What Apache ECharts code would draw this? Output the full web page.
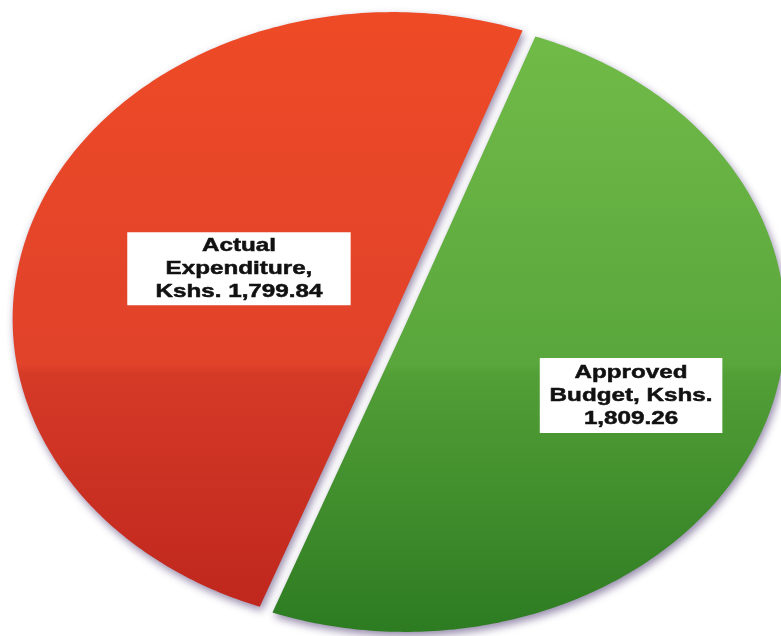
<!DOCTYPE html>
<html>
<head>
<meta charset="utf-8">
<script src="https://cdn.jsdelivr.net/npm/echarts@6/dist/echarts.min.js"></script>
<style>
  html, body { margin: 0; padding: 0; background: #ffffff; }
  #chart { width: 781px; height: 636px; }
</style>
</head>
<body>
<div id="chart"></div>
<script>
// Budget vs. expenditure, Kshs. (millions)
const categories = ['Approved Budget', 'Actual Expenditure'];
const values = [1809.26, 1799.84];
const valuePrefix = 'Kshs. ';

// Vertical colour ramps for each slice (top -> bottom)
const sliceColors = [
  [[0, '#72BC48'], [0.57, '#59A63C'], [0.585, '#529F37'], [1, '#2E7C22']],
  [[0, '#EE4A26'], [0.57, '#E0422A'], [0.585, '#D53A27'], [1, '#BE251C']]
];

// Oval pie geometry (pixels) and label placement
const layout = { cx: 399, cy: 322, rx: 380, ry: 307, startAngle: 70, explode: 7 };
const labelLayout = [
  { r: 0.633, dy: 3.5, padding: [3, 7.5] },
  { r: 0.431, dy: -4.5, padding: [2, 21.5] }
];
const labelFontSize = 18.5;
const labelFont = 'bold ' + labelFontSize + 'px "Liberation Sans", Arial, sans-serif';
const labelWrapWidth = 132;
const labelStretch = 1.31;

function formatValue(v) {
  return valuePrefix + v.toLocaleString('en-US', { minimumFractionDigits: 2, maximumFractionDigits: 2 });
}

// word-wrap a label to a maximum line width
const measureCtx = document.createElement('canvas').getContext('2d');
function wrapLabel(text) {
  measureCtx.font = labelFont;
  const words = text.split(' ');
  const lines = [];
  let line = '';
  words.forEach(w => {
    const next = line ? line + ' ' + w : w;
    if (line && measureCtx.measureText(next).width > labelWrapWidth) {
      lines.push(line);
      line = w;
    } else {
      line = next;
    }
  });
  if (line) lines.push(line);
  return lines.join('\n');
}

function renderSlice(params, api) {
  const i = params.dataIndex;
  const total = values.reduce((s, v) => s + v, 0);
  let before = 0;
  for (let k = 0; k < i; k++) before += values[k];
  const v = api.value(0);

  // slices run clockwise from the start angle
  const a0 = layout.startAngle - before / total * 360;
  const a1 = a0 - v / total * 360;
  const mid = (a0 + a1) / 2 * Math.PI / 180;

  // pull each slice out along the oval's normal at its mid angle
  let nx = Math.cos(mid) / layout.rx;
  let ny = -Math.sin(mid) / layout.ry;
  const nl = Math.hypot(nx, ny);
  nx /= nl; ny /= nl;
  const ox = layout.cx + nx * layout.explode;
  const oy = layout.cy + ny * layout.explode;

  const pts = [[ox, oy]];
  const steps = 240;
  for (let s = 0; s <= steps; s++) {
    const t = (a0 + (a1 - a0) * s / steps) * Math.PI / 180;
    pts.push([ox + layout.rx * Math.cos(t), oy - layout.ry * Math.sin(t)]);
  }

  const lx = ox + labelLayout[i].r * layout.rx * Math.cos(mid);
  const ly = oy - labelLayout[i].r * layout.ry * Math.sin(mid) + labelLayout[i].dy;

  const fill = new echarts.graphic.LinearGradient(
    0, layout.cy - layout.ry, 0, layout.cy + layout.ry,
    sliceColors[i].map(([offset, color]) => ({ offset, color })),
    true
  );

  return {
    type: 'group',
    children: [
      {
        type: 'polygon',
        shape: { points: pts },
        style: {
          fill: fill,
          shadowBlur: 8,
          shadowColor: 'rgba(60, 40, 100, 0.55)',
          shadowOffsetX: 2,
          shadowOffsetY: 4
        }
      },
      {
        type: 'text',
        x: lx,
        y: ly,
        scaleX: labelStretch,
        z2: 10,
        style: {
          text: wrapLabel(categories[i] + ', ' + formatValue(v)),
          font: labelFont,
          fill: '#111111',
          stroke: '#111111',
          lineWidth: 0.5,
          align: 'center',
          verticalAlign: 'middle',
          lineHeight: 23,
          backgroundColor: '#ffffff',
          padding: labelLayout[i].padding
        }
      }
    ]
  };
}

const chart = echarts.init(document.getElementById('chart'), null, { renderer: 'canvas' });
chart.setOption({
  backgroundColor: '#ffffff',
  animation: false,
  series: [{
    type: 'custom',
    coordinateSystem: 'none',
    silent: true,
    renderItem: renderSlice,
    data: values.map(v => [v])
  }]
});
</script>
</body>
</html>
